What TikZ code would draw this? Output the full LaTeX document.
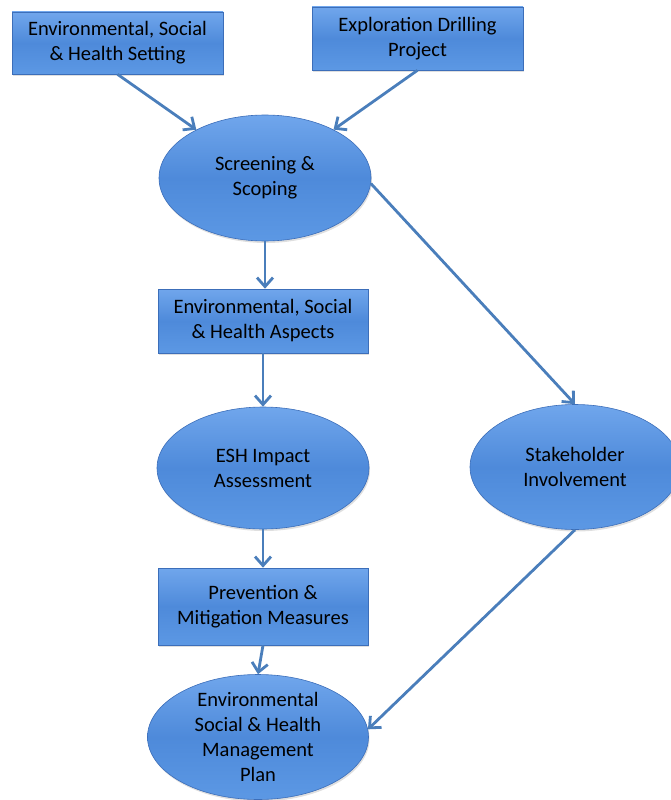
\documentclass[tikz,border=0pt]{standalone}
\usepackage{fontspec}
\setmainfont{Carlito}
\usetikzlibrary{shapes.geometric,arrows.meta,shadows}
\definecolor{boxtop}{RGB}{112,166,236}
\definecolor{boxmid}{RGB}{78,138,218}
\definecolor{boxbot}{RGB}{92,152,228}
\definecolor{edgeblue}{RGB}{60,110,185}
\definecolor{arrowblue}{RGB}{74,126,187}
\tikzset{
  blue fill/.style={top color=boxtop, bottom color=boxbot, middle color=boxmid,
    draw=edgeblue, line width=0.6pt,
    drop shadow={shadow xshift=1pt, shadow yshift=-2pt, opacity=0.25}},
  boxnode/.style={blue fill, rectangle, inner sep=0pt, align=center,
    font=\fontsize{20.5}{25}\selectfont},
  ellnode/.style={blue fill, ellipse, inner sep=0pt},
  elltext/.style={align=center, font=\fontsize{20.5}{25}\selectfont},
  arr/.style={draw=arrowblue, line width=2.8pt,
    -{Straight Barb[length=9pt,width=16pt,line width=2.8pt]}}
}
\begin{document}
\begin{tikzpicture}[x=1pt,y=-1pt]
\useasboundingbox (0,0) rectangle (670,800);
\node[boxnode, minimum width=211pt, minimum height=62pt] (b1) at (117.5,43)
  {Environmental, Social\\ \& Health Setting};
\node[boxnode, minimum width=211pt, minimum height=63pt] (b2) at (417.5,38.5)
  {Exploration Drilling\\ Project};
\node[ellnode, minimum width=212pt, minimum height=126pt] (scr) at (265,178) {};
\node[elltext] (scrt) at (scr.center) {Screening \&\\ Scoping};
\node[boxnode, minimum width=210pt, minimum height=64pt] (b3) at (263,321)
  {Environmental, Social\\ \& Health Aspects};
\node[ellnode, minimum width=212pt, minimum height=122pt] (esh) at (263,468) {};
\node[elltext] (esht) at (esh.center) {ESH Impact\\ Assessment};
\node[ellnode, minimum width=210pt, minimum height=125pt] (stk) at (575,467) {};
\node[elltext] (stkt) at (stk.center) {Stakeholder\\ Involvement};
\node[boxnode, minimum width=210pt, minimum height=77pt] (b4) at (263,606.5)
  {Prevention \&\\ Mitigation Measures};
\node[ellnode, minimum width=221pt, minimum height=125pt] (plan) at (258,737) {};
\node[elltext] (plant) at (plan.center) {Environmental\\ Social \& Health\\ Management\\ Plan};
\draw[arr] (b1.south) -- (scr);
\draw[arr] (b2.south) -- (scr);
\draw[arr] (scr.south) -- (scr.south |- b3.north);
\draw[arr] (b3.south) -- (esh.north);
\draw[arr] (esh.south) -- (b4.north);
\draw[arr] (b4.south) -- (plan.north);
\draw[arr] (scr.-3) -- (stk.north);
\draw[arr] (stk.south) -- (plan.4);
\end{tikzpicture}
\end{document}
